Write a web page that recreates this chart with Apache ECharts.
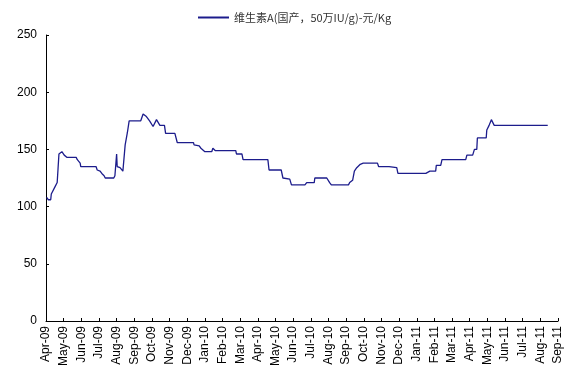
<!DOCTYPE html>
<html>
<head>
<meta charset="utf-8">
<script src="https://cdn.jsdelivr.net/npm/echarts@6/dist/echarts.min.js"></script>
<style>
html,body{margin:0;padding:0;background:#fff;}
#chart{width:569px;height:373px;}
</style>
</head>
<body>
<div id="chart"></div>
<script>
var seriesName = '维生素A(国产，50万IU/g)-元/Kg';

var tickLabels = ['Apr-09','May-09','Jun-09','Jul-09','Aug-09','Sep-09','Oct-09','Nov-09','Dec-09',
  'Jan-10','Feb-10','Mar-10','Apr-10','May-10','Jun-10','Jul-10','Aug-10','Sep-10','Oct-10','Nov-10','Dec-10',
  'Jan-11','Feb-11','Mar-11','Apr-11','May-11','Jun-11','Jul-11','Aug-11','Sep-11'];

var dates = [
  '2009-04-02','2009-04-05','2009-04-09','2009-04-10','2009-04-13','2009-04-16','2009-04-20','2009-04-23','2009-04-28',
  '2009-05-02','2009-05-07','2009-05-23','2009-05-25','2009-05-30','2009-05-31',
  '2009-06-26','2009-06-28','2009-07-03','2009-07-06','2009-07-10','2009-07-12','2009-07-27','2009-07-29',
  '2009-08-01','2009-08-02','2009-08-07','2009-08-12','2009-08-14','2009-08-16','2009-08-20','2009-08-23',
  '2009-09-12','2009-09-16','2009-09-21','2009-09-27','2009-10-03','2009-10-06','2009-10-09','2009-10-12','2009-10-15',
  '2009-10-23','2009-10-25','2009-11-10','2009-11-14','2009-12-12','2009-12-13','2009-12-22','2009-12-25',
  '2010-01-01','2010-01-13','2010-01-15','2010-01-19','2010-02-22','2010-02-23','2010-03-04','2010-03-06',
  '2010-04-18','2010-04-20','2010-05-11','2010-05-14','2010-05-26','2010-05-29','2010-06-21','2010-06-24',
  '2010-07-07','2010-07-08','2010-07-29','2010-08-03','2010-08-06','2010-09-05','2010-09-07','2010-09-12',
  '2010-09-15','2010-09-19','2010-09-25','2010-09-30','2010-10-25','2010-10-27','2010-11-14','2010-11-15',
  '2010-11-27','2010-11-29','2011-01-17','2011-01-24','2011-02-03','2011-02-04','2011-02-11','2011-02-13',
  '2011-03-25','2011-03-27','2011-04-06','2011-04-09','2011-04-13','2011-04-14','2011-04-29','2011-04-30',
  '2011-05-04','2011-05-08','2011-05-13','2011-08-14'
];

var values = [
  108,106,106,111,111,117,121,146,148,
  145,143,143,141,138,135,
  135,132,131,129,127,125,125,127,
  146,135,134,131,132,154,165,175,
  175,181,179,175,170,170,176,175,171,
  171,164,164,156,156,154,153,151,
  148,148,151,149,149,146,146,141,
  141,132,132,125,124,119,119,121,
  121,125,125,121,119,119,121,123,
  131,134,137,138,138,135,135,134,
  134,129,129,131,131,136,136,141,
  141,145,145,150,150,160,160,167,
  171,176,171,171
];

function monthOffset(s){
  var p = s.split('-');
  var y = +p[0], m = +p[1], d = +p[2];
  var dim = new Date(y, m, 0).getDate();
  return (y - 2009) * 12 + (m - 4) + (d - 1) / dim;
}

var seriesData = dates.map(function(d, i){ return [monthOffset(d), values[i]]; });

var chart = echarts.init(document.getElementById('chart'));
chart.setOption({
  animation: false,
  backgroundColor: '#fff',
  legend: {
    left: 193, top: 7,
    itemWidth: 31, itemHeight: 2, itemGap: 10,
    icon: 'rect',
    textStyle: {fontFamily: 'Noto Sans CJK SC', fontSize: 11, color: '#333'},
    data: [seriesName]
  },
  grid: {left: 46, right: 11, top: 35, bottom: 52},
  xAxis: {
    type: 'value', min: 0, max: tickLabels.length - 1, interval: 1,
    axisLine: {lineStyle: {color: '#000', width: 1}},
    axisTick: {inside: true, length: 3, lineStyle: {color: '#000'}},
    splitLine: {show: false},
    axisLabel: {
      rotate: 90, fontFamily: 'Liberation Sans', fontSize: 12, color: '#000', margin: 5,
      formatter: function(v){ return tickLabels[Math.round(v)] || ''; }
    }
  },
  yAxis: {
    type: 'value', min: 0, max: 250, interval: 50,
    axisLine: {show: true, lineStyle: {color: '#000', width: 1}},
    axisTick: {show: true, inside: true, length: 3, lineStyle: {color: '#000'}},
    splitLine: {show: false},
    axisLabel: {fontFamily: 'Liberation Sans', fontSize: 12, color: '#000', margin: 9}
  },
  series: [{
    name: seriesName,
    type: 'line',
    data: seriesData,
    showSymbol: false,
    lineStyle: {color: '#1c1c8c', width: 1.3},
    itemStyle: {color: '#1c1c8c'}
  }]
});
</script>
</body>
</html>
